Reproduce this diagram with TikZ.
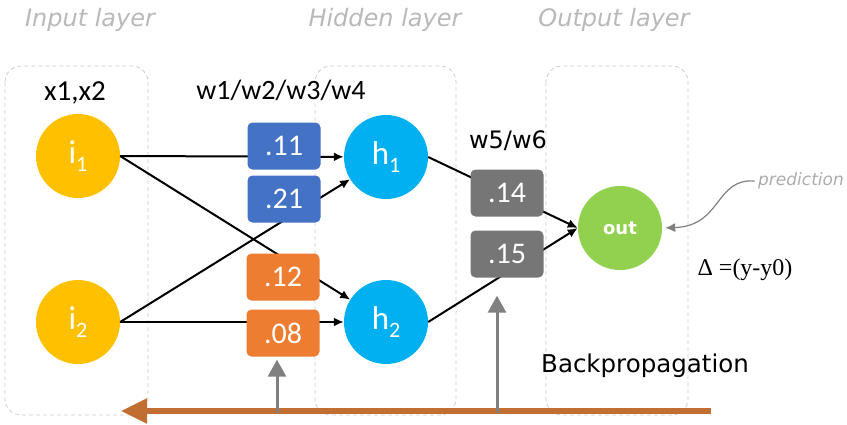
\documentclass[tikz,border=0pt]{standalone}
\usepackage{fontspec}
\setmainfont{Carlito}
\newfontfamily\dejavu{DejaVu Sans}
\newfontfamily\timesfont{Liberation Serif}
\usetikzlibrary{arrows,arrows.meta}
\definecolor{inyellow}{RGB}{255,192,0}
\definecolor{hidblue}{RGB}{0,176,240}
\definecolor{outgreen}{RGB}{146,208,80}
\definecolor{wblue}{RGB}{68,114,196}
\definecolor{worange}{RGB}{237,125,49}
\definecolor{wgray}{RGB}{118,118,118}
\definecolor{backbrown}{RGB}{193,110,50}
\def\lsub#1{\raisebox{-8pt}{\fontsize{22}{22}\selectfont#1}}
\def\fs#1{\fontsize{#1}{#1}\selectfont}

\begin{document}
\begin{tikzpicture}[x=1pt,y=-1pt,>={Latex[length=10pt,width=9pt]},
    neuron/.style={circle,minimum size=84pt,inner sep=0pt,text=white,font=\fs{33}},
    weight/.style={rounded corners=5pt,minimum width=73pt,minimum height=47pt,inner sep=0pt,text=white,font=\fs{30}},
    layer/.style={draw=gray!40,dashed,dash pattern=on 4pt off 3pt,rounded corners=16pt,line width=0.8pt},
    layername/.style={text=gray!55,font=\dejavu\itshape\fs{24}},
    link/.style={->,line width=2pt},
    uparrow/.style={draw=gray,line width=3pt,-{Triangle[length=17pt,width=18pt]}}]
    \useasboundingbox (0,0) rectangle (847,424);
    \draw[layer] (5,66) rectangle (148,415);
    \draw[layer] (315,66) rectangle (456,415);
    \draw[layer] (546,66) rectangle (688,415);
    \node[layername] (tin) at (90,20) {Input layer};
    \node[layername] (thid) at (385,20) {Hidden layer};
    \node[layername] (tout) at (614,20) {Output layer};
    \node[font=\fs{29}] (xin) at (75,93) {x1,x2};
    \node[font=\fs{28}] (wa) at (281,90) {w1/w2/w3/w4};
    \node[font=\dejavu\fs{24}] (wb) at (508,141) {w5/w6};
    \node[neuron,fill=inyellow] (i1) at (78,156) {i\lsub{1}};
    \node[neuron,fill=inyellow] (i2) at (78,322) {i\lsub{2}};
    \node[neuron,fill=hidblue] (h1) at (386,157) {h\lsub{1}};
    \node[neuron,fill=hidblue] (h2) at (386,322) {h\lsub{2}};
    \node[neuron,fill=outgreen,font=\dejavu\bfseries\fs{18}] (out) at (620,228) {out};
    \draw[link] (i1.east) -- (h1);
    \draw[link] (i1.east) -- (h2);
    \draw[link] (i2.east) -- (h1);
    \draw[link] (i2.east) -- (h2);
    \draw[link] (h1.east) -- (out.west);
    \draw[link] (h2.east) -- (out.west);
    \node[weight,fill=wblue] (w11) at (284,146) {.11};
    \node[weight,fill=wblue] (w21) at (284,199) {.21};
    \node[weight,fill=worange] (w12) at (283,277) {.12};
    \node[weight,fill=worange] (w08) at (283,333) {.08};
    \node[weight,fill=wgray] (w14) at (507,193) {.14};
    \node[weight,fill=wgray] (w15) at (507,254) {.15};
    \coordinate (bstart) at (711,411);
    \coordinate (bend) at (121,411);
    \draw[backbrown,line width=5.5pt,-{Triangle[length=26pt,width=24pt]}] (bstart) -- (bend);
    \coordinate (g1) at (277,413);
    \coordinate (g2) at (497,413);
    \draw[uparrow,shorten >=3pt] (g1) -- (g1 |- w08.south);
    \draw[uparrow,shorten >=18pt] (g2) -- (g2 |- w15.south);
    \node[font=\dejavu\fs{24.5}] (bp) at (645,366) {Backpropagation};
    \node[text=gray!65,font=\dejavu\itshape\fs{17}] (pred) at (801,181) {prediction};
    \draw[gray,line width=1.2pt,->,shorten >=3pt] (pred.west) .. controls (715,178) and (722,226) .. (out.east);
    \node[font=\timesfont\fs{24}] (delta) at (745,270) {Δ =(y-y0)};
\end{tikzpicture}
\end{document}
